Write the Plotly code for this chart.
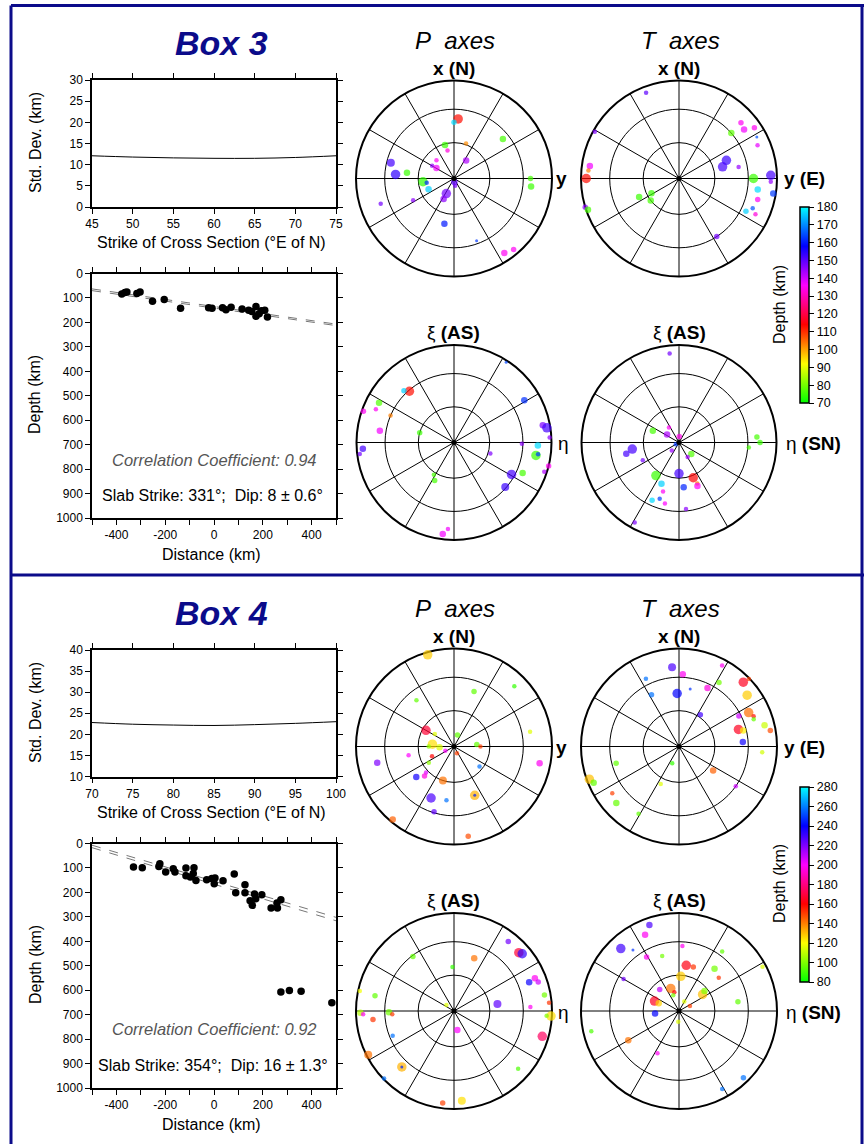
import colorsys
import numpy as np
import plotly.graph_objects as go

# ---------------- DATA ----------------
# Std. dev. vs strike of cross section
strike3 = [45, 50, 55, 60, 65, 70, 75]
std3 = [12.1, 11.8, 11.6, 11.5, 11.5, 11.7, 12.1]
strike4 = [70, 75, 80, 85, 90, 95, 100]
std4 = [22.8, 22.4, 22.2, 22.1, 22.3, 22.6, 23.0]

# Hypocentres along cross section (distance km, depth km)
dist3 = [-378, -365, -357, -316, -303, -252, -204, -137, -22, -8, 35, 49, 70, 115,
         142, 155, 172, 172, 185, 194, 208, 219]
depth3 = [84, 78, 76, 82, 76, 114, 106, 142, 140, 142, 140, 148, 138, 145,
          150, 155, 135, 175, 165, 152, 150, 178]
dist4 = [-330, -294, -222, -226, -198, -167, -160, -115, -82, -115, -97, -85, -74, -30,
         -9, 4, 1, 37, 83, 89, 127, 127, 166, 148, 157, 171, 196, 234, 260, 258,
         274, 274, 309, 357, 483]
depth4 = [96, 99, 83, 94, 117, 103, 117, 100, 99, 132, 137, 123, 151, 148,
          143, 141, 165, 152, 125, 201, 169, 201, 207, 234, 253, 226, 210, 264, 264, 243,
          230, 607, 601, 604, 651]

# Slab fit lines (depth at distance -500 and 500)
fit_x = [-500, 500]
fit3_a = [63, 207]
fit3_b = [70, 213]
fit4_a = [7, 302]
fit4_b = [17, 316]
volc4 = [-119, -78, -33, 4, 12, 56, 67]
volc_level = -14

slab3_text = "Slab Strike: 331°;  Dip: 8 ± 0.6°"
slab4_text = "Slab Strike: 354°;  Dip: 16 ± 1.3°"
corr3_text = "Correlation Coefficient: 0.94"
corr4_text = "Correlation Coefficient: 0.92"

# Box 3 P axes (azimuth deg, plunge deg, depth km, magnitude)
p3_az = [4, 0, 19, 345, 347, 51, 34, 316, 300, 301, 284, 274, 277, 264, 261, 247, 251, 242,
         207, 207, 174, 171, 192, 160, 146, 140, 90, 96]
p3_pl = [39, 42, 59, 61, 66, 36, 72, 69, 69, 73, 34, 40, 50, 64, 67, 67, 22, 51,
         76, 71, 87, 84, 51, 33, 9, 6, 23, 22]
p3_dep = [113, 177, 102, 75, 133, 76, 143, 135, 145, 137, 152, 154, 75, 74, 162, 176, 148, 146,
          148, 146, 150, 148, 160, 163, 135, 135, 76, 75]
p3_mag = [6.3, 5.5, 5.3, 5.7, 5.3, 5.7, 5.7, 5.3, 5.3, 5.7, 6.0, 6.3, 5.7, 6.3, 5.3, 5.7, 5.3, 5.3,
          6.3, 5.7, 5.7, 5.3, 5.7, 5.0, 5.7, 5.5, 5.5, 5.7]
# Box 3 T axes
t3_az = [339, 299, 48, 53, 56, 49, 62, 67, 69, 75, 79, 90, 88, 92, 98, 99, 105, 116, 112, 115,
         147, 270, 278, 275, 253, 251, 245, 242, 232]
t3_pl = [7, 2, 16, 18, 8, 30, 11, 14, 47, 52, 38, 25, 7, 7, 20, 3, 18, 25, 20, 15,
         30, 6, 9, 8, 0, 2, 53, 64, 60]
t3_dep = [150, 147, 135, 137, 135, 78, 165, 138, 153, 152, 145, 75, 152, 145, 177, 163, 135, 176,
          165, 133, 148, 113, 137, 103, 146, 76, 75, 75, 76]
t3_mag = [5.3, 5.3, 5.5, 5.7, 5.5, 5.7, 5.0, 5.3, 6.3, 6.3, 5.3, 6.3, 6.3, 5.3, 5.7, 5.7, 5.5, 5.5,
          5.3, 5.3, 5.5, 6.3, 5.7, 5.3, 5.5, 5.7, 5.7, 5.7, 5.7]
# Box 3 P axes, slab frame (xi, eta)
xp3_az = [33, 319, 316, 298, 289, 293, 293, 279, 286, 59, 79, 81, 87, 91, 92, 99, 98, 104, 108,
          114, 119, 131, 107, 266, 263, 212, 207, 184, 187]
xp3_pl = [2, 31, 27, 14, 2, 14, 30, 24, 60, 17, 8, 4, 2, 31, 15, 16, 14, 0, 3,
          24, 33, 31, 58, 7, 3, 58, 54, 12, 6]
xp3_dep = [164, 113, 176, 77, 135, 135, 103, 137, 75, 162, 147, 152, 146, 146, 177, 75, 163, 135,
           143, 76, 152, 153, 147, 152, 148, 76, 76, 137, 137]
xp3_mag = [5.0, 6.3, 5.5, 5.7, 5.5, 5.3, 5.3, 5.7, 5.5, 5.7, 5.7, 6.3, 5.3, 5.3, 5.7, 6.3, 5.3, 5.5,
           5.3, 5.7, 6.3, 6.0, 5.3, 5.7, 5.3, 5.3, 5.5, 5.3, 5.7]
# Box 3 T axes, slab frame
xt3_az = [354, 326, 304, 294, 3, 243, 222, 262, 258, 244, 133, 149, 86, 90, 94, 215, 180, 158,
          156, 157, 174, 203, 198, 205, 199, 193, 174, 209]
xt3_pl = [9, 75, 78, 66, 85, 87, 81, 50, 44, 56, 76, 76, 21, 18, 29, 56, 64, 58,
          52, 50, 52, 52, 46, 35, 39, 36, 32, 7]
xt3_dep = [148, 135, 143, 76, 134, 163, 145, 152, 152, 148, 77, 144, 76, 75, 76, 75, 152, 114,
           104, 136, 161, 176, 135, 177, 163, 136, 146, 147]
xt3_mag = [5.3, 5.3, 5.7, 5.7, 5.5, 5.3, 5.3, 6.3, 5.7, 5.3, 5.7, 5.3, 5.5, 5.5, 5.3, 6.3, 6.3, 6.3,
           5.3, 5.7, 5.7, 5.7, 5.3, 5.5, 5.3, 5.3, 5.3, 5.3]

# Box 4 P axes
p4_az = [344, 20, 45, 321, 300, 303, 17, 276, 267, 270, 85, 90, 79, 244, 156, 246, 237, 259, 258,
         101, 227, 225, 231, 198, 128, 157, 157, 188, 204, 197, 220, 171]
p4_pl = [3, 40, 14, 39, 63, 71, 80, 72, 78, 69, 71, 68, 22, 82, 84, 70, 65, 51, 21,
         12, 58, 55, 49, 60, 63, 45, 45, 44, 42, 31, 3, 8]
p4_dep = [128, 95, 88, 95, 168, 115, 95, 125, 115, 102, 95, 150, 115, 200, 150, 160, 102, 200, 220,
          198, 205, 195, 237, 142, 258, 132, 245, 258, 228, 225, 145, 148]
p4_mag = [6.3, 5.5, 5.3, 5.3, 6.3, 5.3, 5.5, 6.3, 5.7, 5.3, 5.5, 5.3, 5.3, 5.3, 5.3, 5.3, 5.3, 5.3, 5.7,
          5.7, 5.3, 5.5, 5.7, 6.0, 5.3, 6.3, 5.0, 5.3, 6.3, 5.5, 5.7, 5.5]
# Box 4 T axes
t4_az = [355, 3, 28, 32, 26, 11, 358, 334, 332, 45, 46, 53, 64, 68, 63, 70, 76, 80, 34, 74,
         76, 86, 94, 125, 125, 255, 202, 250, 247, 235, 228, 211, 206]
t4_pl = [20, 27, 7, 24, 34, 40, 45, 24, 40, 8, 1, 14, 22, 19, 32, 20, 11, 6, 58, 37,
         33, 35, 16, 55, 30, 34, 75, 3, 6, 18, 15, 21, 55]
t4_dep = [228, 198, 198, 98, 195, 248, 240, 258, 258, 165, 150, 128, 143, 158, 208, 96, 112, 148, 230, 165,
          122, 238, 113, 145, 208, 95, 88, 130, 95, 150, 96, 95, 115]
t4_mag = [6.0, 5.7, 5.3, 5.5, 5.7, 5.0, 6.3, 5.3, 5.5, 6.3, 5.3, 6.3, 6.3, 5.3, 5.5, 5.3, 5.7, 5.5, 5.5, 6.3,
          5.7, 5.7, 5.3, 5.7, 5.3, 5.5, 5.3, 6.3, 5.7, 5.3, 5.7, 5.3, 5.3]
# Box 4 P axes, slab frame
xp4_az = [38, 48, 50, 21, 358, 323, 69, 68, 71, 80, 85, 87, 81, 308, 93, 93, 106, 170, 132, 282,
          281, 269, 268, 264, 269, 267, 248, 243, 223, 223, 226, 187, 175]
xp4_pl = [11, 12, 10, 42, 53, 31, 19, 12, 10, 7, 3, 23, 53, 82, 1, 6, 7, 74, 13, 2,
          19, 5, 8, 18, 34, 37, 33, 2, 23, 23, 1, 6, 9]
xp4_dep = [222, 168, 232, 142, 88, 95, 238, 198, 208, 98, 152, 198, 225, 115, 125, 100, 175, 200, 92, 118,
           95, 108, 198, 152, 98, 152, 258, 142, 132, 245, 258, 150, 125]
xp4_mag = [5.5, 6.3, 6.3, 5.7, 5.3, 5.5, 5.7, 5.7, 5.5, 5.5, 5.3, 5.3, 6.0, 5.3, 6.3, 5.3, 6.3, 5.7, 5.3, 5.3,
           5.5, 5.7, 5.3, 5.5, 5.7, 5.3, 5.3, 6.0, 6.3, 5.0, 5.3, 5.5, 6.0]
# Box 4 T axes, slab frame
xt4_az = [341, 336, 317, 323, 329, 343, 3, 9, 18, 3, 36, 40, 50, 62, 300, 318, 340, 346, 340, 55,
          52, 29, 65, 81, 292, 291, 264, 184, 257, 240, 207, 136, 151]
xt4_pl = [8, 16, 14, 23, 36, 41, 34, 51, 51, 61, 26, 43, 46, 4, 35, 66, 70, 74, 76, 66,
          63, 81, 80, 39, 68, 72, 70, 81, 9, 40, 50, 6, 10]
xt4_dep = [228, 198, 230, 248, 198, 98, 198, 163, 152, 128, 95, 98, 152, 115, 222, 210, 142, 160, 98, 130,
           100, 115, 150, 95, 165, 127, 240, 115, 92, 142, 198, 258, 258]
xt4_mag = [5.7, 5.7, 6.3, 5.0, 5.5, 5.3, 5.3, 6.3, 5.5, 6.3, 5.3, 5.7, 5.3, 5.3, 5.3, 5.5, 6.3, 5.3, 5.3, 6.3,
           5.7, 5.3, 5.3, 5.5, 6.3, 5.7, 5.7, 5.3, 5.3, 5.7, 5.3, 5.5, 5.3]

depth_range3 = [70, 180]
depth_range4 = [80, 280]

# ---------------- STYLE / HELPERS ----------------
W, H = 864, 1144
FONT = "Liberation Sans, Arial, Helvetica, sans-serif"
NAVY = "#0b0b8a"


def px(x):
    return x / W


def py(y):
    return 1 - y / H


def ea(pl):
    """Lambert equal-area radius (lower hemisphere) from plunge."""
    return np.sqrt(2) * np.sin(np.radians(90 - np.asarray(pl, float)) / 2)


def msize(m):
    return 3 + (np.asarray(m, float) - 5.0) * 5


def hsv_scale(n=31):
    out = []
    for i in range(n):
        f = i / (n - 1)
        h = ((120 - 300 * f) % 360) / 360
        r, g, b = colorsys.hsv_to_rgb(h, 1, 1)
        out.append([f, f"rgb({int(r*255)},{int(g*255)},{int(b*255)})"])
    return out


SCALE = hsv_scale()

fig = go.Figure()

# polar subplots: (name, cx, cy, R, az, pl, dep, mag, coloraxis)
polars = [
    ("polar", 454, 178.5, 98, p3_az, p3_pl, p3_dep, p3_mag, "coloraxis"),
    ("polar2", 679, 178.5, 98, t3_az, t3_pl, t3_dep, t3_mag, "coloraxis"),
    ("polar3", 454, 442.5, 97.5, xp3_az, xp3_pl, xp3_dep, xp3_mag, "coloraxis"),
    ("polar4", 679, 442.5, 97.5, xt3_az, xt3_pl, xt3_dep, xt3_mag, "coloraxis"),
    ("polar5", 454, 746.5, 98, p4_az, p4_pl, p4_dep, p4_mag, "coloraxis2"),
    ("polar6", 679, 746.5, 98, t4_az, t4_pl, t4_dep, t4_mag, "coloraxis2"),
    ("polar7", 454, 1011, 98, xp4_az, xp4_pl, xp4_dep, xp4_mag, "coloraxis2"),
    ("polar8", 679, 1011, 98, xt4_az, xt4_pl, xt4_dep, xt4_mag, "coloraxis2"),
]

layout_polars = {}
for name, cx, cy, R, az, pl, dep, mag, cax in polars:
    layout_polars[name] = dict(
        domain=dict(x=[px(cx - R), px(cx + R)], y=[py(cy + R), py(cy - R)]),
        bgcolor="white",
        radialaxis=dict(range=[0, 1], tickmode="array", tickvals=list(ea([60, 30])),
                        showticklabels=False, ticks="", showline=False,
                        gridcolor="black", gridwidth=1, layer="below traces"),
        angularaxis=dict(direction="clockwise", rotation=90, tickmode="array",
                         tickvals=list(range(0, 360, 30)), showticklabels=False, ticks="",
                         gridcolor="black", gridwidth=1, linecolor="black", linewidth=2,
                         layer="below traces"),
    )
    fig.add_trace(go.Scatterpolar(
        r=ea(pl), theta=az, subplot=name, mode="markers", cliponaxis=False,
        marker=dict(color=dep, coloraxis=cax, size=msize(mag), line=dict(width=0)),
        showlegend=False, hoverinfo="skip"))
    fig.add_trace(go.Scatterpolar(
        r=[0], theta=[0], subplot=name, mode="markers",
        marker=dict(color="black", size=5), showlegend=False, hoverinfo="skip"))

# cartesian plots
fig.add_trace(go.Scatter(x=strike3, y=std3, mode="lines", line=dict(color="black", width=1, shape="spline"),
                         xaxis="x", yaxis="y", showlegend=False))
fig.add_trace(go.Scatter(x=strike4, y=std4, mode="lines", line=dict(color="black", width=1, shape="spline"),
                         xaxis="x3", yaxis="y3", showlegend=False))

for fa in (fit3_a, fit3_b):
    fig.add_trace(go.Scatter(x=fit_x, y=fa, mode="lines", line=dict(color="#777777", width=1, dash="dash"),
                             xaxis="x2", yaxis="y2", showlegend=False))
for fa in (fit4_a, fit4_b):
    fig.add_trace(go.Scatter(x=fit_x, y=fa, mode="lines", line=dict(color="#777777", width=1, dash="dash"),
                             xaxis="x4", yaxis="y4", showlegend=False))

fig.add_trace(go.Scatter(x=dist3, y=depth3, mode="markers", marker=dict(color="black", size=7.5),
                         xaxis="x2", yaxis="y2", showlegend=False))
fig.add_trace(go.Scatter(x=dist4, y=depth4, mode="markers", marker=dict(color="black", size=7.5),
                         xaxis="x4", yaxis="y4", showlegend=False, cliponaxis=False))
fig.add_trace(go.Scatter(x=volc4, y=[volc_level] * len(volc4), mode="markers",
                         marker=dict(color="black", size=9, symbol="triangle-up"),
                         xaxis="x4", yaxis="y4", showlegend=False, cliponaxis=False))

ax = dict(showline=True, linecolor="black", linewidth=1.5, mirror="ticks", ticks="outside",
          ticklen=5, tickwidth=1.2, tickcolor="black", showgrid=False, zeroline=False,
          automargin=False, tickfont=dict(size=12, family=FONT, color="black"))
dist_ticks = list(range(-500, 501, 100))
dist_text = [str(v) if v in (-400, -200, 0, 200, 400) else "" for v in dist_ticks]

layout_axes = dict(
    xaxis=dict(domain=[px(92), px(336)], anchor="y", range=[45, 75], dtick=5, **ax),
    yaxis=dict(domain=[py(207), py(80)], anchor="x", range=[0, 30], dtick=5, **ax),
    xaxis2=dict(domain=[px(92), px(336)], anchor="y2", range=[-500, 500], tickmode="array",
                tickvals=dist_ticks, ticktext=dist_text, **ax),
    yaxis2=dict(domain=[py(518), py(273.5)], anchor="x2", range=[1000, 0], dtick=100, **ax),
    xaxis3=dict(domain=[px(92), px(336)], anchor="y3", range=[70, 100], dtick=5, **ax),
    yaxis3=dict(domain=[py(776.5), py(650)], anchor="x3", range=[10, 40], dtick=5, **ax),
    xaxis4=dict(domain=[px(92), px(336)], anchor="y4", range=[-500, 500], tickmode="array",
                tickvals=dist_ticks, ticktext=dist_text, **ax),
    yaxis4=dict(domain=[py(1088), py(843.5)], anchor="x4", range=[1000, 0], dtick=100, **ax),
)


def cbar(ycenter, length, tick0, dtick):
    return dict(x=px(800), xanchor="left", xpad=0, ypad=0, y=py(ycenter), yanchor="middle",
                len=length / H, lenmode="fraction", thickness=9, thicknessmode="pixels",
                outlinewidth=1.5, outlinecolor="black", tickmode="linear", tick0=tick0, dtick=dtick,
                ticks="outside", ticklen=5, tickcolor="black", tickwidth=1.2,
                tickfont=dict(size=12.5, family=FONT, color="black"))


annots = []


def txt(x, y, s, size, color="black", angle=0):
    annots.append(dict(x=px(x), y=py(y), xref="paper", yref="paper", text=s, showarrow=False,
                       xanchor="center", yanchor="middle", textangle=angle,
                       font=dict(size=size, family=FONT, color=color)))


for off_y, box in ((0, "Box 3"), (570, "Box 4")):
    txt(221, 43 + off_y, f"<b><i>{box}</i></b>", 34, NAVY)
    txt(35, 143 + off_y, "Std. Dev. (km)", 16, angle=-90)
    txt(211, 242 + off_y, "Strike of Cross Section (°E of N)", 16)

txt(35, 395, "Depth (km)", 16, angle=-90)
txt(35, 965, "Depth (km)", 16, angle=-90)
txt(211, 554, "Distance (km)", 16)
txt(211, 1124, "Distance (km)", 16)
txt(214, 460, f"<i>{corr3_text}</i>", 16.5, "#555555")
txt(212, 495, slab3_text, 16)
txt(214, 1029, f"<i>{corr4_text}</i>", 16.5, "#555555")
txt(213, 1065, slab4_text, 16)

for yP, yX, yY, yXi, yEta in ((40, 68, 178, 332, 443), (609, 637, 747, 900, 1012)):
    txt(455, yP, "<i>P\u00a0\u00a0axes</i>", 24)
    txt(680, yP, "<i>T\u00a0\u00a0axes</i>", 24)
    txt(454, yX, "<b>x (N)</b>", 19)
    txt(679, yX, "<b>x (N)</b>", 19)
    txt(561, yY, "<b>y</b>", 19)
    txt(804, yY, "<b>y (E)</b>", 19)
    txt(453, yXi, "ξ <b>(AS)</b>", 19)
    txt(679, yXi, "ξ <b>(AS)</b>", 19)
    txt(563, yEta, "η", 19)
    txt(813, yEta, "η <b>(SN)</b>", 19)

txt(779, 305, "Depth (km)", 16, angle=-90)
txt(779, 884, "Depth (km)", 16, angle=-90)

shapes = [
    dict(type="line", xref="paper", yref="paper", x0=px(11), x1=px(11), y0=py(5.5), y1=py(1150),
         line=dict(color=NAVY, width=3)),
    dict(type="line", xref="paper", yref="paper", x0=px(11), x1=px(870), y0=py(5.5), y1=py(5.5),
         line=dict(color=NAVY, width=3)),
    dict(type="line", xref="paper", yref="paper", x0=px(11), x1=px(870), y0=py(575), y1=py(575),
         line=dict(color=NAVY, width=3)),
    dict(type="line", xref="paper", yref="paper", x0=px(862), x1=px(862), y0=py(5.5), y1=py(1150),
         line=dict(color=NAVY, width=3)),
]

fig.update_layout(
    width=W, height=H, margin=dict(l=0, r=0, t=0, b=0, pad=0, autoexpand=False),
    paper_bgcolor="white", plot_bgcolor="white", showlegend=False,
    font=dict(family=FONT, color="black"),
    coloraxis=dict(cmin=depth_range3[0], cmax=depth_range3[1], colorscale=SCALE,
                   colorbar=cbar(305, 196, 70, 10)),
    coloraxis2=dict(cmin=depth_range4[0], cmax=depth_range4[1], colorscale=SCALE,
                    colorbar=cbar(884.5, 195, 80, 20)),
    annotations=annots, shapes=shapes,
    **layout_polars, **layout_axes,
)

# remove the browser's default 8px page margin so the figure sits at the window origin
fig.write_html("out.html", config={"displayModeBar": False},
               post_script="document.body.style.margin='0px';")
